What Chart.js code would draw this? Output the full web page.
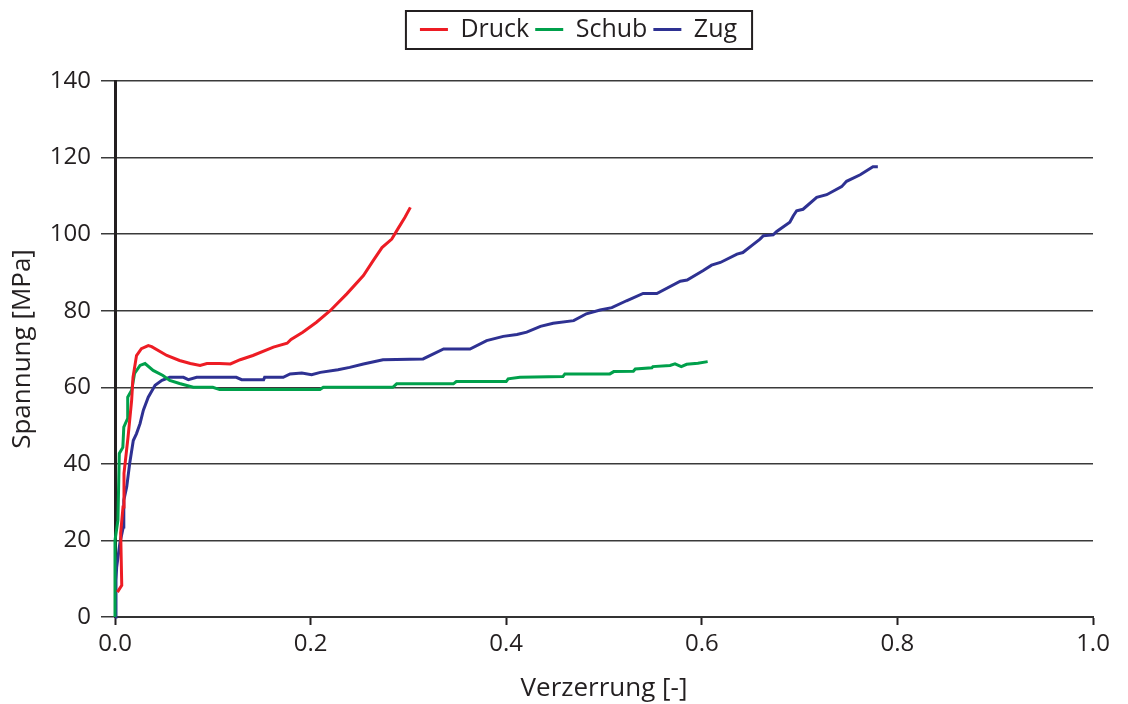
<!DOCTYPE html>
<html>
<head>
<meta charset="utf-8">
<script src="https://cdn.jsdelivr.net/npm/chart.js@4/dist/chart.umd.min.js"></script>
<style>
  html, body { margin: 0; padding: 0; background: #ffffff; }
  #wrap { width: 1128px; height: 704px; }
</style>
</head>
<body>
<div id="wrap"><canvas id="c" width="1128" height="704"></canvas></div>
<script>
// ---- data ----
const seriesNames = ['Druck', 'Schub', 'Zug'];

const druckX = [0.0025, 0.0069, 0.0058, 0.0082, 0.0092, 0.0133, 0.017, 0.0184, 0.022, 0.027, 0.034, 0.0375, 0.053, 0.066, 0.077, 0.087, 0.094, 0.107, 0.118, 0.128, 0.141, 0.162, 0.176, 0.180, 0.192, 0.206, 0.220, 0.237, 0.254, 0.264, 0.273, 0.283, 0.290, 0.2965, 0.302];
const druckY = [6.5, 8.3, 21.9, 28.7, 37.5, 46.9, 56.6, 62.6, 68.3, 70.1, 70.9, 70.6, 68.3, 67.0, 66.2, 65.7, 66.2, 66.2, 66.1, 67.2, 68.3, 70.5, 71.5, 72.5, 74.4, 77.0, 80.0, 84.4, 89.2, 93.1, 96.5, 98.7, 101.7, 104.4, 107.0];

const schubX = [0, 0, 0.003, 0.0044, 0.008, 0.009, 0.013, 0.013, 0.017, 0.020, 0.0256, 0.0307, 0.039, 0.049, 0.056, 0.066, 0.080, 0.100, 0.107, 0.2096, 0.213, 0.284, 0.288, 0.346, 0.349, 0.400, 0.402, 0.414, 0.458, 0.460, 0.506, 0.510, 0.530, 0.532, 0.549, 0.550, 0.5675, 0.5726, 0.579, 0.5845, 0.596, 0.606];
const schubY = [0, 20, 25.3, 42.7, 44.3, 49.6, 51.9, 57.4, 59.2, 63.6, 65.7, 66.2, 64.4, 63.1, 61.8, 61.0, 60.0, 60.0, 59.4, 59.4, 60.0, 60.0, 60.9, 60.9, 61.5, 61.5, 62.2, 62.6, 62.8, 63.5, 63.5, 64.1, 64.2, 64.8, 65.1, 65.4, 65.7, 66.1, 65.4, 66.0, 66.3, 66.7];

const zugX = [0, 0.001, 0.0017, 0.005, 0.0085, 0.009, 0.012, 0.015, 0.0187, 0.022, 0.0256, 0.029, 0.034, 0.041, 0.048, 0.056, 0.070, 0.075, 0.0835, 0.124, 0.1295, 0.152, 0.153, 0.172, 0.179, 0.191, 0.201, 0.210, 0.228, 0.240, 0.254, 0.274, 0.315, 0.336, 0.363, 0.380, 0.397, 0.411, 0.421, 0.435, 0.448, 0.469, 0.482, 0.496, 0.508, 0.523, 0.540, 0.554, 0.578, 0.585, 0.6015, 0.610, 0.619, 0.636, 0.642, 0.651, 0.6595, 0.663, 0.673, 0.6766, 0.690, 0.6936, 0.697, 0.7035, 0.7175, 0.7277, 0.743, 0.748, 0.762, 0.775, 0.780];
const zugY = [0, 9.6, 13.0, 19.3, 23.5, 30.5, 34.0, 40.1, 46.1, 47.9, 50.5, 54.0, 57.4, 60.5, 61.8, 62.6, 62.6, 62.0, 62.6, 62.6, 62.0, 62.0, 62.6, 62.6, 63.5, 63.7, 63.3, 63.9, 64.6, 65.2, 66.1, 67.2, 67.4, 70.0, 70.0, 72.2, 73.3, 73.8, 74.4, 75.9, 76.7, 77.4, 79.2, 80.2, 80.8, 82.6, 84.5, 84.5, 87.7, 88.0, 90.5, 91.9, 92.6, 94.8, 95.2, 97.0, 98.7, 99.6, 99.8, 100.7, 103.1, 104.8, 106.1, 106.5, 109.6, 110.3, 112.4, 113.8, 115.5, 117.6, 117.6];

const xTickLabels = ['0.0', '0.2', '0.4', '0.6', '0.8', '1.0'];
const yTickLabels = ['0', '20', '40', '60', '80', '100', '120', '140'];
const xAxisTitle = 'Verzerrung [-]';
const yAxisTitle = 'Spannung [MPa]';

// ---- styling ----
const colors = ['#ed1c24', '#00a04b', '#2e3192'];
const ink = '#231f20';
const FONT = '"Open Sans", "DejaVu Sans", sans-serif';

function zip(xs, ys) { return xs.map((x, i) => ({ x: x, y: ys[i] })); }

const legendBorder = {
  id: 'legendBorder',
  afterLayout(chart) {
    const lg = chart.legend;
    if (!lg) return;
    const d = 578.5 - (lg.left + lg.right) / 2;
    lg.left += d;
    lg.right += d;
  },
  afterDraw(chart) {
    const lg = chart.legend;
    if (!lg || !lg.legendHitBoxes || !lg.legendHitBoxes.length) return;
    const hb = lg.legendHitBoxes;
    let l = Infinity, r = -Infinity, t = Infinity, b = -Infinity;
    hb.forEach(h => {
      l = Math.min(l, h.left); r = Math.max(r, h.left + h.width);
      t = Math.min(t, h.top); b = Math.max(b, h.top + h.height);
    });
    const ctx = chart.ctx;
    ctx.save();
    ctx.strokeStyle = ink;
    ctx.lineWidth = 2;
    ctx.strokeRect(l - 14, t - 6, (r + 15) - (l - 14), (b + 7) - (t - 6));
    ctx.restore();
  }
};

new Chart(document.getElementById('c'), {
  type: 'scatter',
  data: {
    datasets: [
      { label: seriesNames[0], data: zip(druckX, druckY) },
      { label: seriesNames[1], data: zip(schubX, schubY) },
      { label: seriesNames[2], data: zip(zugX, zugY) }
    ].map((ds, i) => Object.assign(ds, {
      showLine: true,
      borderColor: colors[i],
      backgroundColor: colors[i],
      borderWidth: 3,
      pointRadius: 0,
      pointHoverRadius: 0,
      tension: 0,
      clip: 5
    }))
  },
  options: {
    responsive: false,
    animation: false,
    devicePixelRatio: 1,
    layout: { padding: { left: 0, right: 35, top: 11, bottom: 0 } },
    plugins: {
      legend: {
        display: true,
        position: 'top',
        labels: {
          usePointStyle: true,
          pointStyle: 'line',
          pointStyleWidth: 28,
          color: ink,
          padding: 6,
          font: { family: FONT, size: 25 }
        }
      },
      title: {
        display: true,
        text: '',
        weight: 500,
        font: { size: 10 },
        padding: { top: 17, bottom: 0 }
      },
      tooltip: { enabled: false }
    },
    scales: {
      x: {
        type: 'linear',
        min: 0,
        max: 1,
        afterFit(s) { s.height = 87; },
        ticks: {
          stepSize: 0.2,
          color: ink,
          padding: 5,
          font: { family: FONT, size: 24 },
          maxRotation: 0,
          callback: (v, i) => xTickLabels[i]
        },
        grid: {
          drawOnChartArea: false,
          drawTicks: true,
          tickLength: 8,
          tickColor: ink,
          tickWidth: 2
        },
        border: { display: true, color: '#333333', width: 2 },
        title: {
          display: true,
          text: xAxisTitle,
          color: ink,
          font: { family: FONT, size: 26 },
          padding: { top: 0, bottom: 0 }
        }
      },
      y: {
        type: 'linear',
        min: 0,
        max: 140,
        afterFit(s) { s.width = 115; },
        ticks: {
          stepSize: 20,
          color: ink,
          padding: 10,
          font: { family: FONT, size: 24 },
          callback: (v, i) => yTickLabels[i]
        },
        grid: {
          color: '#3a3a3a',
          lineWidth: 1.5,
          drawTicks: true,
          tickLength: 14,
          tickColor: '#3a3a3a',
          tickWidth: 1.5
        },
        border: { display: true, color: ink, width: 3 },
        title: {
          display: true,
          text: yAxisTitle,
          color: ink,
          font: { family: FONT, size: 26 },
          padding: { top: 7, bottom: 0 }
        }
      }
    }
  },
  plugins: [legendBorder]
});
</script>
</body>
</html>
